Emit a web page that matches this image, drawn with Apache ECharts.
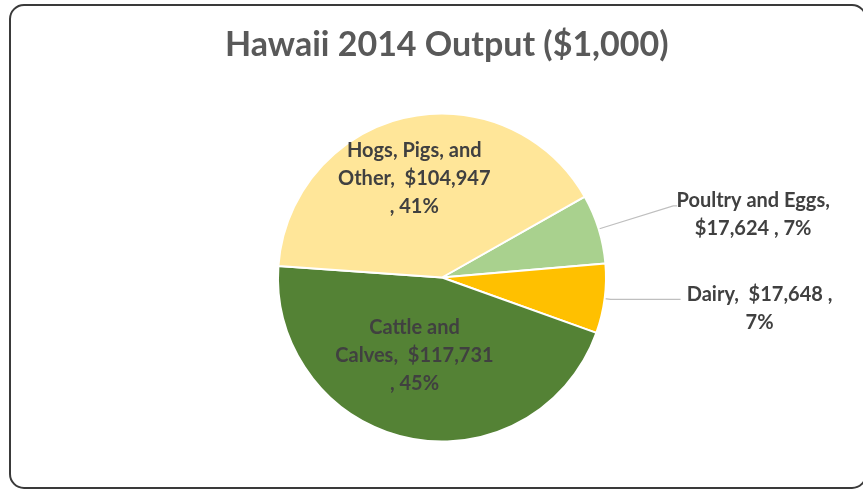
<!DOCTYPE html>
<html>
<head>
<meta charset="utf-8">
<script src="https://cdn.jsdelivr.net/npm/echarts@6/dist/echarts.min.js"></script>
<style>
  html, body { margin: 0; padding: 0; background: #ffffff; }
  #chart { width: 863px; height: 489px; }
</style>
</head>
<body>
<div id="chart"></div>
<script>
const chartTitle = 'Hawaii 2014 Output ($1,000)';
const categories = ['Poultry and Eggs', 'Dairy', 'Cattle and Calves', 'Hogs, Pigs, and Other'];
const values = [17624, 17648, 117731, 104947];
const sliceColors = ['#A9D18E', '#FFC000', '#548235', '#FFE699'];

const FONT = 'Lato, "Liberation Sans", sans-serif';
const LABEL_COLOR = '#404040';

function money(v) {
  return '$' + v.toLocaleString('en-US');
}

// Wrapped data-label text: "name, $value , pct%"
function labelText(p) {
  const v = money(p.value);
  const pct = p.percent + '%';
  const words = p.name.split(' ');
  switch (p.dataIndex) {
    case 0:
      return '{c|' + p.name + ',}\n{c|' + v + ' , ' + pct + '}';
    case 1:
      return '{c|' + p.name + ',  ' + v + ' ,}\n{c|' + pct + '}';
    case 2:
      return words.slice(0, 2).join(' ') + '\n' + words.slice(2).join(' ') + ',  ' + v + '\n, ' + pct;
    default:
      return words.slice(0, 3).join(' ') + '\n' + words.slice(3).join(' ') + ',  ' + v + '\n, ' + pct;
  }
}

const outsideLine = [
  { length: 78, length2: 4 },
  { length: 6, length2: 70 }
];

const pieData = categories.map((name, i) => {
  const item = {
    name: name,
    value: values[i],
    itemStyle: { color: sliceColors[i] }
  };
  if (i < 2) {
    item.label = { position: 'outside' };
    item.labelLine = { show: true, length: outsideLine[i].length, length2: outsideLine[i].length2 };
  } else {
    item.label = { position: 'inside' };
    item.labelLine = { show: false };
  }
  return item;
});

// small nudges for the data labels
const labelShift = [
  { dx: -5, dy: 9 },
  { dx: -2, dy: 9 },
  { dx: -10, dy: -5 },
  { dx: -9, dy: -16 }
];

const chart = echarts.init(document.getElementById('chart'), null, { renderer: 'canvas' });

chart.setOption({
  animation: false,
  backgroundColor: '#ffffff',
  title: {
    text: chartTitle,
    left: 220,
    top: 23,
    textStyle: {
      fontFamily: FONT,
      fontSize: 34,
      fontWeight: 'bold',
      color: '#595959'
    }
  },
  graphic: [
    {
      type: 'rect',
      shape: { x: 10, y: 5, width: 856, height: 483, r: 14 },
      style: { fill: 'none', stroke: '#3a3a3a', lineWidth: 2 },
      silent: true,
      z: 100
    }
  ],
  series: [
    {
      type: 'pie',
      center: [442, 277.5],
      radius: [0, 164],
      startAngle: 29.5,
      clockwise: true,
      avoidLabelOverlap: false,
      percentPrecision: 0,
      itemStyle: { borderColor: '#ffffff', borderWidth: 2 },
      label: {
        formatter: labelText,
        fontFamily: FONT,
        fontSize: 20,
        fontWeight: 'bold',
        color: LABEL_COLOR,
        lineHeight: 28,
        align: 'center',
        distanceToLabelLine: 2,
        rich: {
          c: {
            fontFamily: FONT,
            fontSize: 20,
            fontWeight: 'bold',
            color: LABEL_COLOR,
            lineHeight: 28,
            width: 158,
            align: 'center'
          }
        }
      },
      labelLine: {
        lineStyle: { color: '#BFBFBF', width: 1.2 }
      },
      labelLayout: function (params) {
        return labelShift[params.dataIndex] || {};
      },
      emphasis: { disabled: true },
      data: pieData
    }
  ]
});
</script>
</body>
</html>
